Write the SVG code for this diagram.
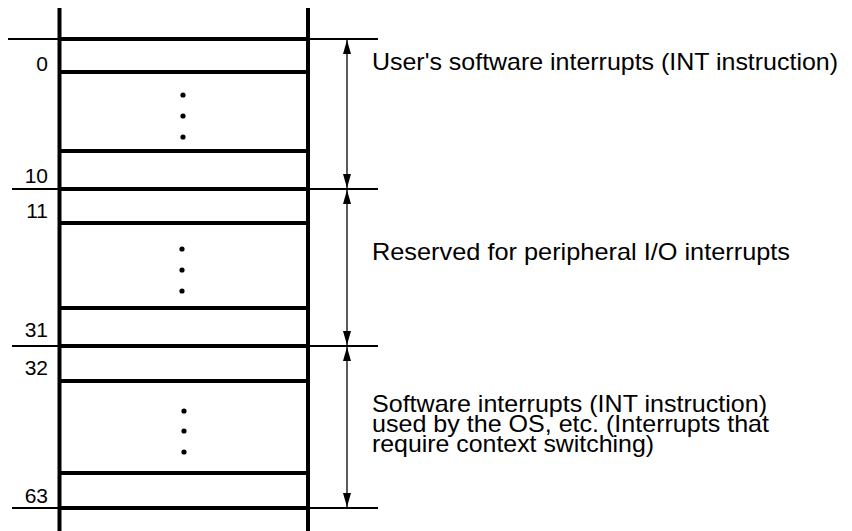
<svg xmlns="http://www.w3.org/2000/svg" width="852" height="531" viewBox="0 0 852 531">
<defs>
<style>
.frame{stroke:#000;stroke-width:4;fill:none}
.row{stroke:#000;stroke-width:4}
.ext{stroke:#000;stroke-width:2}
.arr{stroke:#000;stroke-width:1.3;fill:none;marker-start:url(#ah);marker-end:url(#ah)}
.lbl{font-family:"Liberation Sans",Arial,sans-serif;font-size:21px;fill:#000;text-anchor:end}
.txt{font-family:"Liberation Sans",Arial,sans-serif;font-size:24px;fill:#000}
.dot{fill:#000}
</style>
<marker id="ah" viewBox="0 0 14 8" refX="14" refY="4" markerWidth="14" markerHeight="8" markerUnits="userSpaceOnUse" orient="auto-start-reverse">
<path d="M0,0 L14,4 L0,8 Z" fill="#000"/>
</marker>
</defs>
<rect width="852" height="531" fill="#fff"/>
<g id="table">
<line class="frame" x1="59.5" y1="8" x2="59.5" y2="531"/>
<line class="frame" x1="308" y1="8" x2="308" y2="531"/>
<line class="row" x1="59.5" y1="39" x2="308" y2="39"/>
<line class="row" x1="59.5" y1="72" x2="308" y2="72"/>
<line class="row" x1="59.5" y1="151" x2="308" y2="151"/>
<line class="row" x1="59.5" y1="189" x2="308" y2="189"/>
<line class="row" x1="59.5" y1="223" x2="308" y2="223"/>
<line class="row" x1="59.5" y1="308" x2="308" y2="308"/>
<line class="row" x1="59.5" y1="346" x2="308" y2="346"/>
<line class="row" x1="59.5" y1="381" x2="308" y2="381"/>
<line class="row" x1="59.5" y1="473" x2="308" y2="473"/>
<line class="row" x1="59.5" y1="508" x2="308" y2="508"/>
<line class="ext" x1="8" y1="39" x2="378" y2="39"/>
<line class="ext" x1="12" y1="189" x2="378" y2="189"/>
<line class="ext" x1="12" y1="346" x2="378" y2="346"/>
<line class="ext" x1="12" y1="508" x2="378" y2="508"/>
</g>
<g id="dots">
<circle class="dot" cx="183" cy="95" r="2.6"/>
<circle class="dot" cx="183" cy="116" r="2.6"/>
<circle class="dot" cx="183" cy="137" r="2.6"/>
<circle class="dot" cx="182" cy="249" r="2.6"/>
<circle class="dot" cx="182" cy="270" r="2.6"/>
<circle class="dot" cx="182" cy="291" r="2.6"/>
<circle class="dot" cx="184" cy="411" r="2.6"/>
<circle class="dot" cx="184" cy="431" r="2.6"/>
<circle class="dot" cx="184" cy="452" r="2.6"/>
</g>
<g id="labels">
<text class="lbl" x="48" y="71">0</text>
<text class="lbl" x="48" y="183">10</text>
<text class="lbl" x="48" y="218">11</text>
<text class="lbl" x="48" y="336.5">31</text>
<text class="lbl" x="48" y="375">32</text>
<text class="lbl" x="48" y="502.5">63</text>
</g>
<g id="connectors">
<line class="arr" x1="347" y1="40" x2="347" y2="188"/>
<line class="arr" x1="347" y1="190" x2="347" y2="345"/>
<line class="arr" x1="347" y1="347" x2="347" y2="507"/>
</g>
<g id="range-user">
<text class="txt" x="372" y="70" textLength="466" lengthAdjust="spacingAndGlyphs">User's software interrupts (INT instruction)</text>
</g>
<g id="range-peripheral">
<text class="txt" x="372" y="260" textLength="418" lengthAdjust="spacingAndGlyphs">Reserved for peripheral I/O interrupts</text>
</g>
<g id="range-os">
<text class="txt" x="372" y="412" textLength="395" lengthAdjust="spacingAndGlyphs">Software interrupts (INT instruction)</text>
<text class="txt" x="372" y="432" textLength="397" lengthAdjust="spacingAndGlyphs">used by the OS, etc. (Interrupts that</text>
<text class="txt" x="372" y="452" textLength="282" lengthAdjust="spacingAndGlyphs">require context switching)</text>
</g>
</svg>
